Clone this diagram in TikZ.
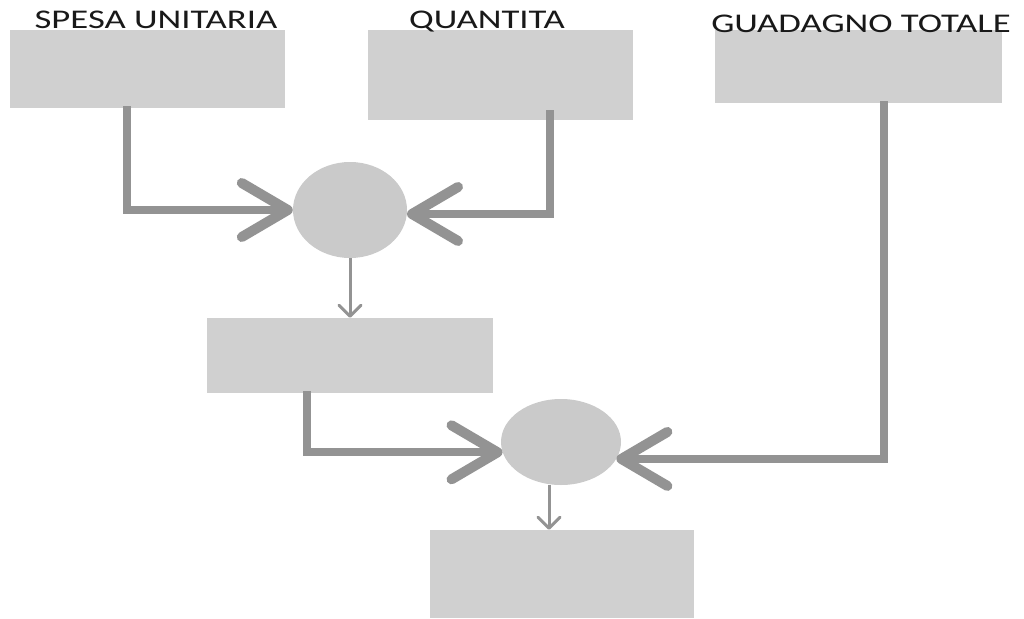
\documentclass[tikz,border=0pt]{standalone}
\usepackage{fontspec}
\setmainfont{Carlito}
\usetikzlibrary{arrows.meta,shapes.geometric}
\definecolor{boxgray}{HTML}{D0D0D0}
\definecolor{ellgray}{HTML}{CACACA}
\definecolor{linegray}{HTML}{939393}
\tikzset{
  box/.style={fill=boxgray, draw=none, inner sep=0pt},
  ell/.style={ellipse, fill=ellgray, draw=none, inner sep=0pt},
  lbl/.style={font=\fontsize{27}{30}\selectfont, inner sep=0pt, anchor=base, xscale=1.36, text=black!90},
  bigarrow/.style={draw=linegray, line width=8pt, -{Straight Barb[length=46pt,width=54pt,line width=10pt,round]}},
  thinarrow/.style={draw=linegray, line width=3pt, -{Straight Barb[length=11pt,width=22pt,line width=3pt,round]}},
}
\begin{document}
\begin{tikzpicture}[x=1pt,y=-1pt]
\useasboundingbox (0,0) rectangle (1024,618);
% boxes
\node[box, minimum width=275pt, minimum height=78pt] (b1) at (147.5,69) {};
\node[box, minimum width=265pt, minimum height=90pt] (b2) at (500.5,75) {};
\node[box, minimum width=287pt, minimum height=73pt] (b3) at (858.5,66.5) {};
\node[box, minimum width=286pt, minimum height=75pt] (b4) at (350,355.5) {};
\node[box, minimum width=264pt, minimum height=88pt] (b5) at (562,574) {};
% ellipses
\node[ell, minimum width=114pt, minimum height=96pt] (e1) at (350,210) {};
\node[ell, minimum width=120pt, minimum height=86pt] (e2) at (561,442) {};
% labels
\node[lbl] (t1) at (156,29) {SPESA UNITARIA};
\node[lbl] (t2) at (487,29) {QUANTITA};
\node[lbl] (t3) at (861,33) {GUADAGNO TOTALE};
% connectors
\draw[bigarrow] ([xshift=-20.5pt,yshift=2pt]b1.south) |- (e1.west);
\draw[bigarrow] ([xshift=49.5pt,yshift=10pt]b2.south) |- (e1.-4);
\draw[bigarrow] ([xshift=-43pt,yshift=2pt]b4.south) |- (e2.190);
\draw[bigarrow] ([xshift=25.5pt,yshift=2pt]b3.south) |- (e2.-17);
\draw[thinarrow] (e1.south) -- (b4.north);
\draw[thinarrow] ([xshift=-12pt]e2.south) -- ([xshift=-12pt]e2.south |- b5.north);
\end{tikzpicture}
\end{document}
